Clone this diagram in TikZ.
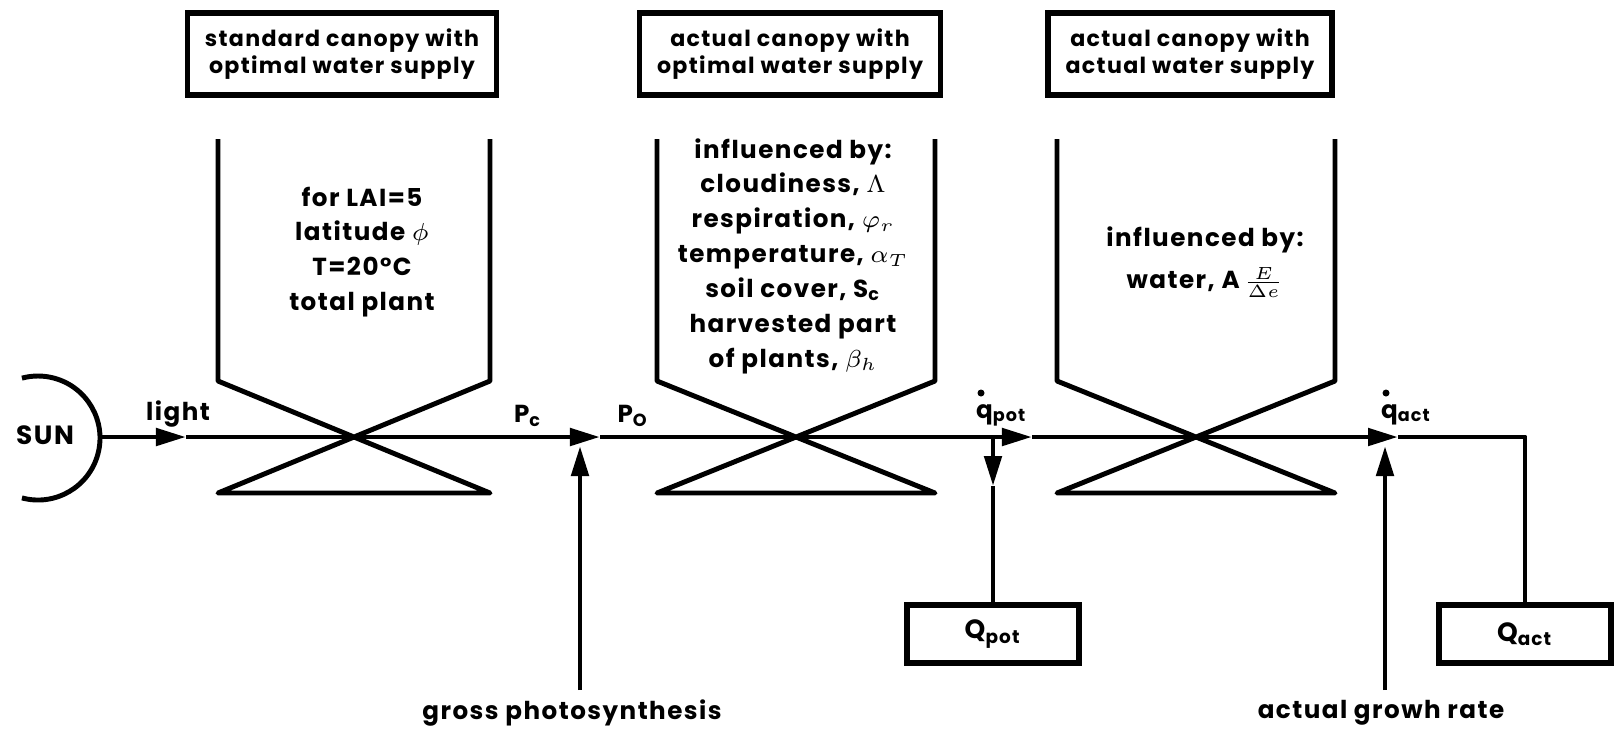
\documentclass[tikz,border=0pt]{standalone}
\usepackage{fontspec}
\setmainfont{Poppins}[LetterSpace=6]
\usetikzlibrary{arrows.meta}
\tikzset{
  line/.style={line width=1.4pt,line join=round},
  flow/.style={line,-{Triangle[length=3mm,width=1.7mm]}},
  headbox/.style={draw,line width=1.6pt,inner xsep=5pt,minimum height=0.82cm,
    align=center,font=\bfseries\fontsize{6.3}{7.9}\selectfont},
  storebox/.style={draw,line width=1.6pt,minimum width=1.72cm,minimum height=0.58cm,
    font=\bfseries\fontsize{7.5}{9}\selectfont},
  lab/.style={font=\bfseries\fontsize{7}{9.9}\selectfont,align=center,inner sep=1pt}
}
\begin{document}
\begin{tikzpicture}[x=0.01cm,y=-0.01cm]
  \useasboundingbox (0,0) rectangle (1615,729);

  % heading boxes
  \node[headbox] (stdbox) at (342,54) {standard canopy with\\optimal water supply};
  \node[headbox] (optbox) at (790,54) {actual canopy with\\optimal water supply};
  \node[headbox] (actbox) at (1190,54) {actual canopy with\\actual water supply};

  % funnels (valves)
  \foreach \cx/\hw in {354/136,796/139,1196/139}
    \draw[line] (\cx-\hw,139) -- (\cx-\hw,381) -- (\cx+\hw,493)
      -- (\cx-\hw,493) -- (\cx+\hw,381) -- (\cx+\hw,139);

  \node[lab] (stdtext) at (362,252)
    {for LAI=5\\latitude $\phi$\\T=20°C\\total plant};
  \node[lab] (opttext) at (793,256)
    {influenced by:\\cloudiness, $\Lambda$\\respiration, $\varphi_r$\\temperature, $\alpha_T$\\
     soil cover, S\textsubscript{c}\\harvested part\\of plants, $\beta_h$};
  \node[lab] (acttext) at (1205,262)
    {influenced by:\\[2pt]water, A\,$\frac{E}{\Delta e}$};

  % sun
  \draw[line] (38,438) ++(105:62) arc[start angle=105,end angle=-105,radius=62];
  \node[lab,font=\bfseries\fontsize{7.5}{9}\selectfont] (sun) at (45,435) {SUN};

  % main flow
  \coordinate (sunR) at (100,437);
  \coordinate (lightTip) at (186,437);
  \coordinate (pTip) at (600,437);
  \coordinate (branch) at (993,437);
  \coordinate (potTip) at (1032,437);
  \coordinate (actTip) at (1398,437);
  \coordinate (corner) at (1525,437);
  \coordinate (downTip) at (993,486);

  \node[storebox] (Qpot) at (993,634) {Q\textsubscript{pot}};
  \node[storebox] (Qact) at (1525,634) {Q\textsubscript{act}};

  \draw[flow] (sunR) -- (lightTip);
  \draw[flow] (lightTip) -- (pTip);
  \draw[flow] (pTip) -- (potTip);
  \draw[flow] (potTip) -- (actTip);
  \draw[line] (actTip) -- (corner) -- (Qact.north);
  \draw[flow] (branch) -- (downTip);
  \draw[line] (downTip) -- (Qpot.north);

  % external inputs
  \coordinate (grossFoot) at (580,690);
  \coordinate (grossTip) at (580,446);
  \coordinate (growFoot) at (1385,690);
  \coordinate (growTip) at (1385,446);
  \draw[flow] (grossFoot) -- (grossTip);
  \draw[flow] (growFoot) -- (growTip);
  \node[lab] (gross) at (572,713) {gross photosynthesis};
  \node[lab] (grow) at (1381,713) {actual growh rate};

  % flow labels
  \node[lab] (light) at (178,414) {light};
  \node[lab] (Pc) at (528,416) {P\textsubscript{c}};
  \node[lab] (Po) at (633,416) {P\textsubscript{O}};
  \node[lab,anchor=base west] (qpot) at (972,418) {q\textsubscript{pot}};
  \node[lab,anchor=base west] (qact) at (1377,418) {q\textsubscript{act}};
  \fill (981,393) circle[radius=3.5];
  \fill (1386,393) circle[radius=3.5];
\end{tikzpicture}
\end{document}
